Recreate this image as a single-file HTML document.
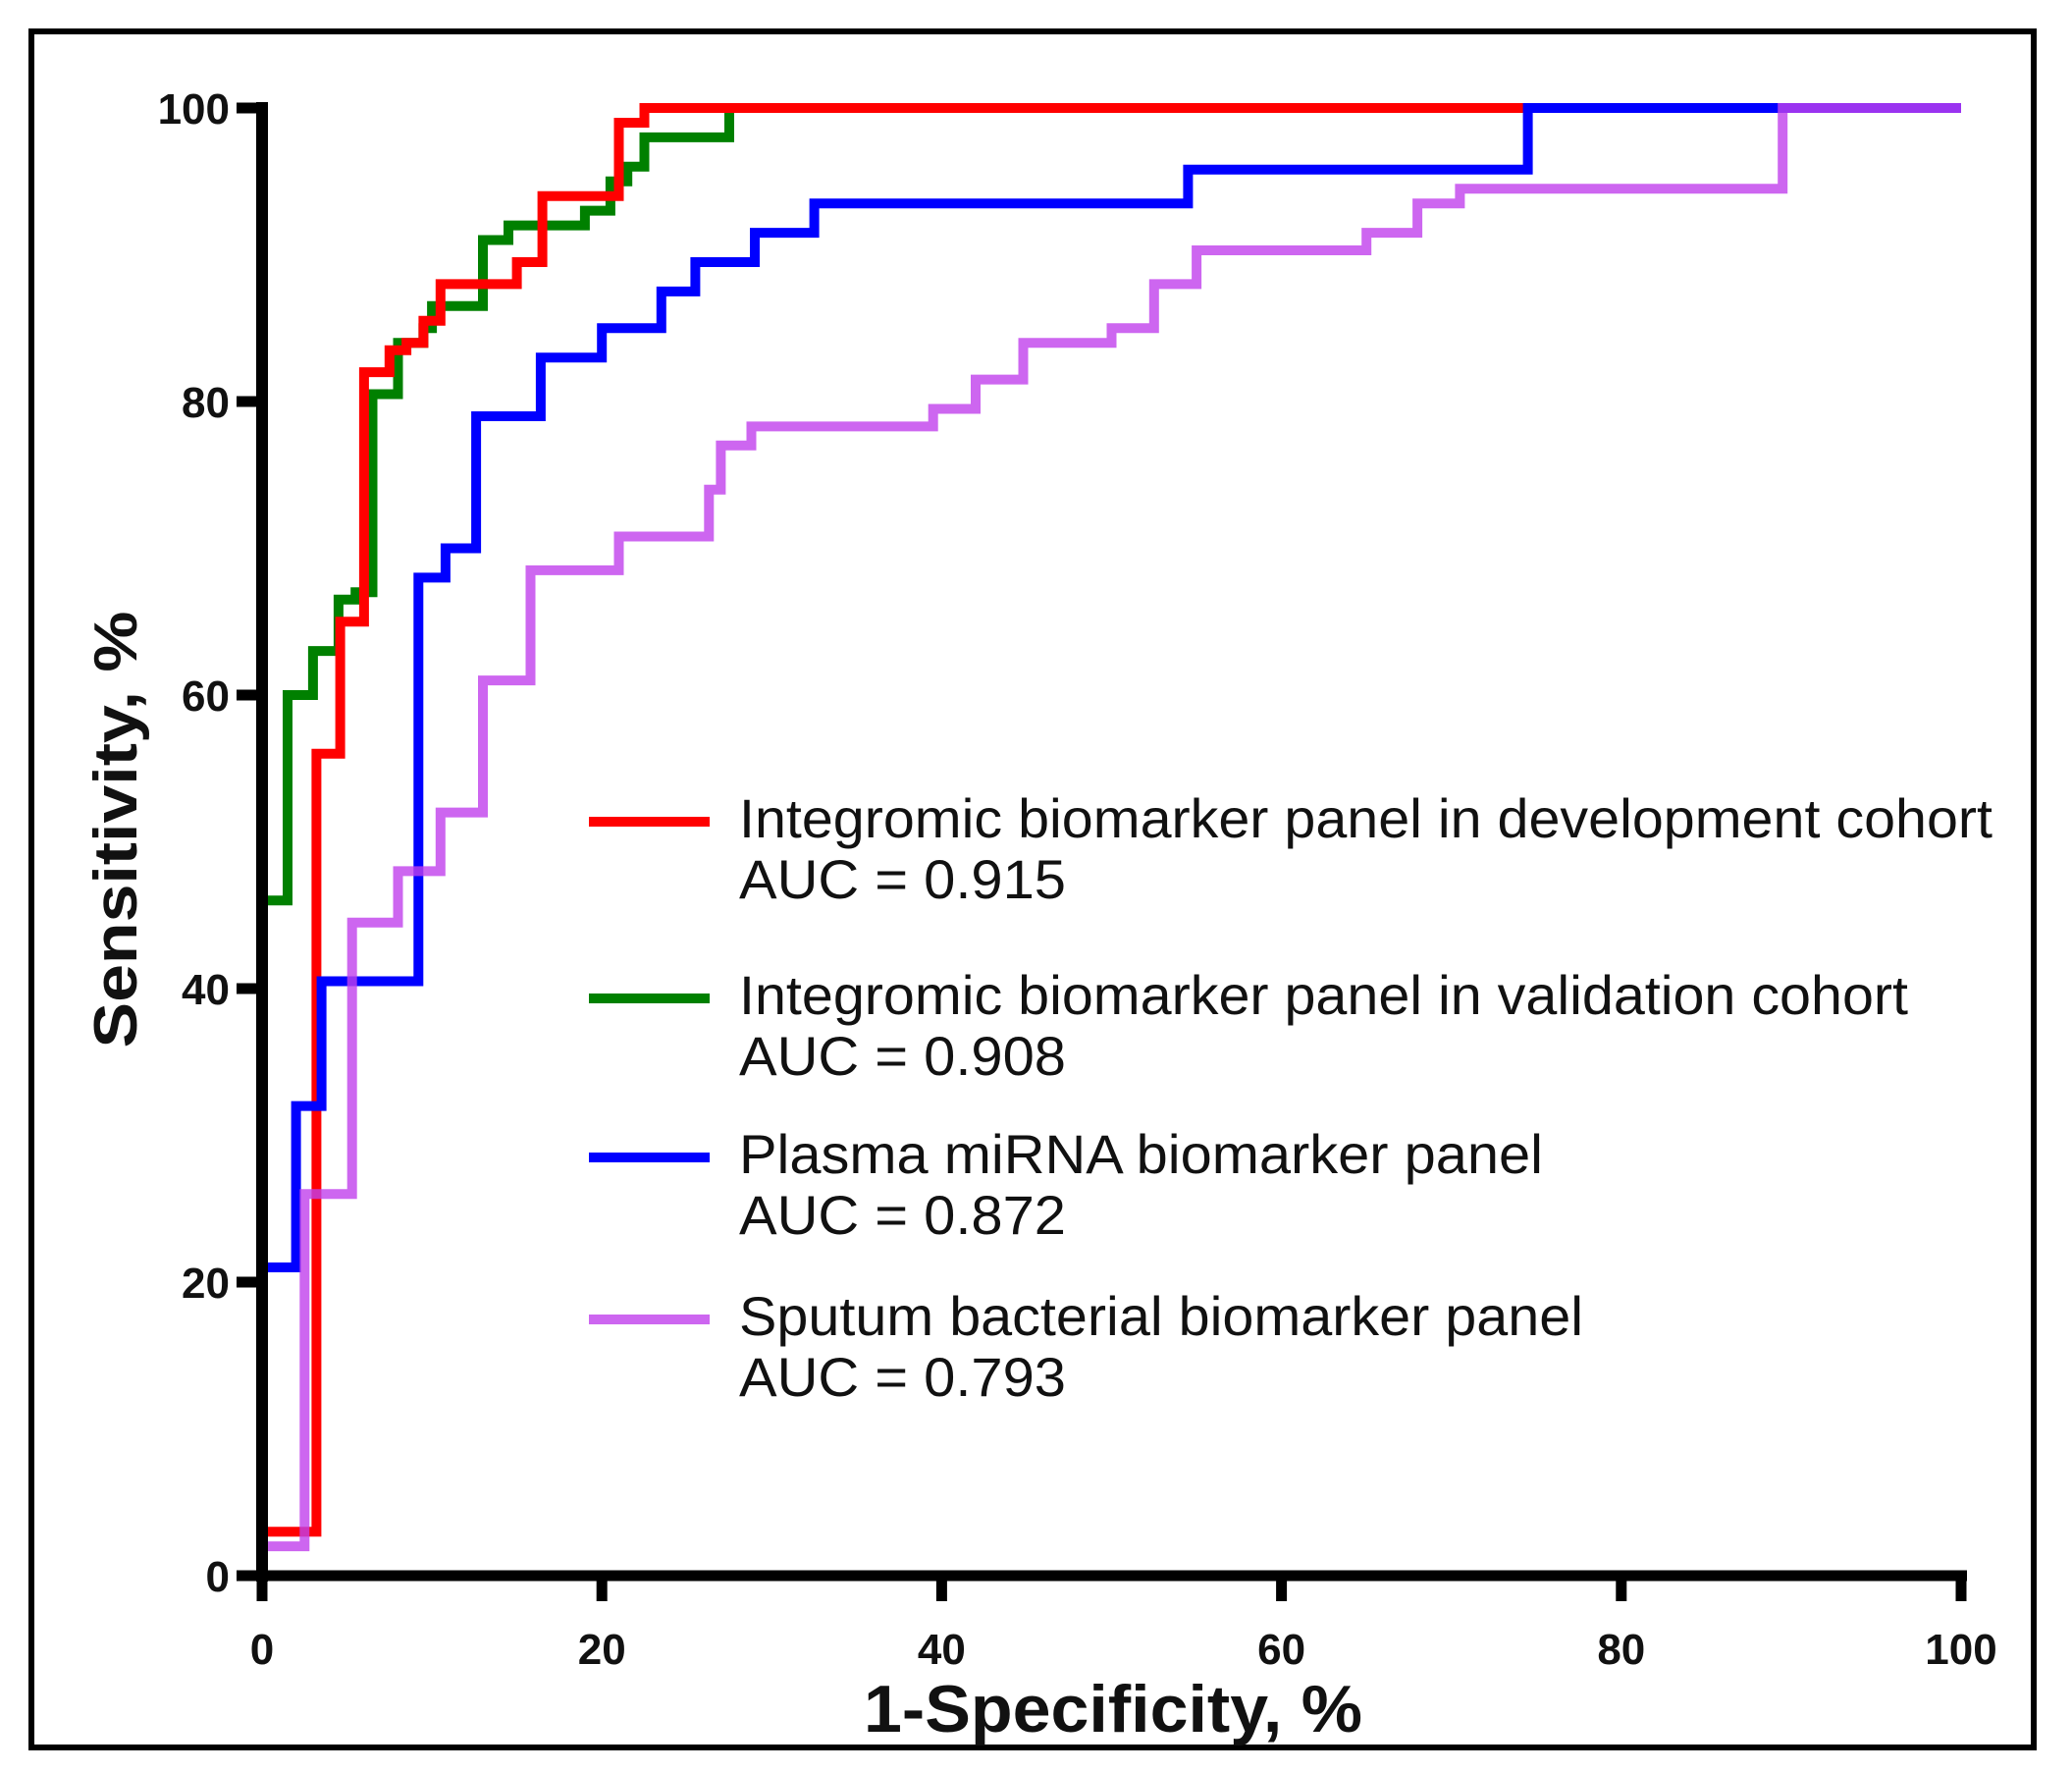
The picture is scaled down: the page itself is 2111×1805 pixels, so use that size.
<!DOCTYPE html>
<html><head><meta charset="utf-8"><style>
html,body{margin:0;padding:0;background:#fff;}
svg{display:block;}
text{font-family:"Liberation Sans",Arial,sans-serif;}
</style></head><body>
<svg id="chart" width="2111" height="1805" viewBox="0 0 2111 1805" xmlns="http://www.w3.org/2000/svg">
<rect x="32" y="32" width="2040" height="1748" fill="#fff" stroke="#000" stroke-width="6"/>
<g id="series"></g>
<g id="axes"></g>
<g id="legend"></g>
</svg>
<script>
const xTicks = [0, 20, 40, 60, 80, 100];
const yTicks = [0, 20, 40, 60, 80, 100];
const devX = [0,0,3.2,3.2,4.6,4.6,6,6,7.5,7.5,8.5,8.5,9.5,9.5,10.5,10.5,15,15,16.5,16.5,21,21,22.5,22.5,100];
const devY = [0,3,3,56,56,65,65,82,82,83.5,83.5,84,84,85.5,85.5,88,88,89.5,89.5,94,94,99,99,100,100];
const valX = [0,0,1.5,1.5,3,3,4.5,4.5,5.5,5.5,6.5,6.5,8,8,9.5,9.5,10,10,13,13,14.5,14.5,19,19,20.5,20.5,21.5,21.5,22.5,22.5,27.5,27.5,100];
const valY = [0,46,46,60,60,63,63,66.5,66.5,67,67,80.5,80.5,84,84,85,85,86.5,86.5,91,91,92,92,93,93,95,95,96,96,98,98,100,100];
const plasmaX = [0,0,2,2,3.5,3.5,9.2,9.2,10.8,10.8,12.6,12.6,16.4,16.4,20,20,23.5,23.5,25.5,25.5,29,29,32.5,32.5,54.5,54.5,74.5,74.5,100];
const plasmaY = [0,21,21,32,32,40.5,40.5,68,68,70,70,79,79,83,83,85,85,87.5,87.5,89.5,89.5,91.5,91.5,93.5,93.5,95.8,95.8,100,100];
const sputumX = [0,0,2.5,2.5,5.3,5.3,8,8,10.5,10.5,13,13,15.8,15.8,21,21,26.3,26.3,27,27,28.8,28.8,39.5,39.5,42,42,44.8,44.8,50,50,52.5,52.5,55,55,65,65,68,68,70.5,70.5,89.5,89.5,100];
const sputumY = [0,2,2,26,26,44.5,44.5,48,48,52,52,61,61,68.5,68.5,70.8,70.8,74,74,77,77,78.3,78.3,79.5,79.5,81.5,81.5,84,84,85,85,88,88,90.3,90.3,91.5,91.5,93.5,93.5,94.5,94.5,100,100];
const legendLabels = ["Integromic biomarker panel in development cohort","Integromic biomarker panel in validation cohort","Plasma miRNA biomarker panel","Sputum bacterial biomarker panel"];
const legendAUC = ["AUC = 0.915","AUC = 0.908","AUC = 0.872","AUC = 0.793"];

const NS = "http://www.w3.org/2000/svg";
const X0 = 267, X1 = 1998, Y0 = 1605, Y1 = 110;
const sx = v => X0 + (v / 100) * (X1 - X0);
const sy = v => Y0 - (v / 100) * (Y0 - Y1);
function mk(tag, attrs, parent) {
  const e = document.createElementNS(NS, tag);
  for (const k in attrs) e.setAttribute(k, attrs[k]);
  parent.appendChild(e);
  return e;
}
const seriesG = document.getElementById('series');
const series = [
  {x: devX, y: devY, c: '#ff0000', n: 'development-cohort-curve', o: 1},
  {x: valX, y: valY, c: '#008000', n: 'validation-cohort-curve', o: 1},
  {x: plasmaX, y: plasmaY, c: '#0000ff', n: 'plasma-mirna-curve', o: 1},
  {x: sputumX, y: sputumY, c: '#c040ec', n: 'sputum-bacterial-curve', o: 0.8}
];
const drawOrder = [1, 0, 2, 3];
drawOrder.forEach(i => {
  const s = series[i];
  const pts = s.x.map((v, j) => sx(v).toFixed(1) + ',' + sy(s.y[j]).toFixed(1)).join(' ');
  const p = mk('polyline', {points: pts, fill: 'none', stroke: s.c, 'stroke-width': 10, 'stroke-linejoin': 'miter', 'stroke-opacity': s.o}, seriesG);
  
  
});

const axG = document.getElementById('axes');
const ya = mk('line', {x1: X0, y1: Y1 - 6, x2: X0, y2: Y0 + 6, stroke: '#000', 'stroke-width': 12}, axG);


const xa = mk('line', {x1: X0 - 6, y1: Y0, x2: X1 + 6, y2: Y0, stroke: '#000', 'stroke-width': 11}, axG);


xTicks.forEach(t => {
  const l = mk('line', {x1: sx(t), y1: Y0, x2: sx(t), y2: Y0 + 26, stroke: '#000', 'stroke-width': 11}, axG);
  
  
  const tx = mk('text', {x: sx(t), y: 1695, 'font-size': 44, 'font-weight': 'bold', 'text-anchor': 'middle', fill: '#111'}, axG);
  tx.textContent = t;
  
  
});
yTicks.forEach(t => {
  const l = mk('line', {x1: X0 - 26, y1: sy(t), x2: X0, y2: sy(t), stroke: '#000', 'stroke-width': 11}, axG);
  
  
  const tx = mk('text', {x: 234, y: sy(t) + 16, 'font-size': 44, 'font-weight': 'bold', 'text-anchor': 'end', fill: '#111'}, axG);
  tx.textContent = t;
  
  
});
const xt = mk('text', {x: 1134, y: 1764, 'font-size': 68, 'font-weight': 'bold', 'text-anchor': 'middle', fill: '#111', textLength: 508, lengthAdjust: 'spacingAndGlyphs'}, axG);
xt.textContent = '1-Specificity, %';


const yt = mk('text', {x: 0, y: 0, 'font-size': 62, 'font-weight': 'bold', 'text-anchor': 'middle', fill: '#111', transform: 'translate(139,845) rotate(-90)', textLength: 445, lengthAdjust: 'spacingAndGlyphs'}, axG);
yt.textContent = 'Sensitivity, %';



const lg = document.getElementById('legend');
const legendY = [837, 1017, 1179, 1344];
const titleW = [1277, 1191, 819, 860];
legendLabels.forEach((lab, i) => {
  const g = mk('g', {}, lg);
  
  
  const ly = legendY[i];
  const sw = mk('line', {x1: 600, y1: ly, x2: 723, y2: ly, stroke: series[i].c, 'stroke-width': 10, 'stroke-opacity': series[i].o}, g);
  
  
  const t1 = mk('text', {x: 753, y: ly + 16, 'font-size': 56, fill: '#111', textLength: titleW[i], lengthAdjust: 'spacingAndGlyphs'}, g);
  t1.textContent = lab;
  
  
  const t2 = mk('text', {x: 753, y: ly + 78, 'font-size': 56, fill: '#111', textLength: 333, lengthAdjust: 'spacingAndGlyphs'}, g);
  t2.textContent = legendAUC[i];
  
  
});
</script>
</body></html>
